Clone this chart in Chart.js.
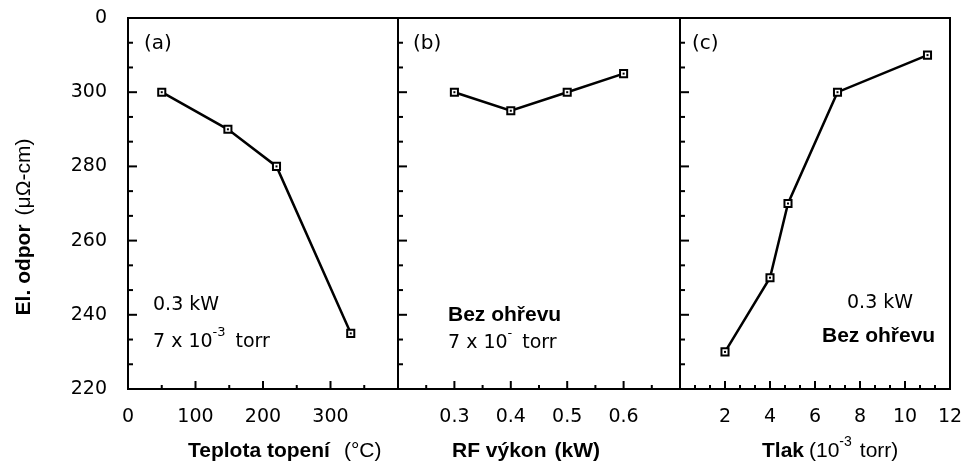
<!DOCTYPE html>
<html>
<head>
<meta charset="utf-8">
<script src="https://cdn.jsdelivr.net/npm/chart.js@4"></script>
<style>
html,body{margin:0;padding:0;background:#fff;}
canvas{display:block;}
</style>
</head>
<body>
<canvas id="c" width="964" height="464" style="width:964px;height:464px"></canvas>
<script>
// ---- data ----
const tempC = [50, 148, 220, 330];
const resA = [300, 290, 280, 235];
const powerKW = [0.3, 0.4, 0.5, 0.6];
const resB = [300, 295, 300, 305];
const pressure = [2, 4, 4.8, 7, 11];
const resC = [230, 250, 270, 300, 310];

const yTicks = [220, 240, 260, 280, 300, 320];
const yTickText = ['220', '240', '260', '280', '300', '0'];
const xTicksA = [0, 100, 200, 300];
const xTicksB = [0.3, 0.4, 0.5, 0.6];
const xTicksC = [2, 4, 6, 8, 10, 12];

const TICK_FONT = {family: 'DejaVu Sans', size: 19};

function ds(xs, ys, axis) {
  return {
    data: xs.map((x, i) => ({x: x, y: ys[i]})),
    xAxisID: axis, yAxisID: 'y',
    borderColor: '#000', borderWidth: 2.5,
    pointStyle: 'rect', pointRadius: 5, pointHoverRadius: 5,
    pointBorderWidth: 2, pointBorderColor: '#000', pointBackgroundColor: '#fff',
    tension: 0, fill: false
  };
}

function xScale(min, max, weight, ticks, fmt) {
  return {
    type: 'linear', position: 'bottom', stack: 'bx', stackWeight: weight,
    min: min, max: max,
    grid: {display: false, drawTicks: false}, border: {display: false},
    afterBuildTicks: s => { s.ticks = ticks.map(v => ({value: v})); },
    afterFit: s => { s.height = 75; s.paddingLeft = 0; s.paddingRight = 0; },
    ticks: {font: TICK_FONT, color: '#000', padding: 17, autoSkip: false, maxRotation: 0,
            callback: v => fmt(v)}
  };
}

const frameTicks = {
  id: 'frameTicks',
  afterDatasetsDraw(chart) {
    const ctx = chart.ctx, y = chart.scales.y, a = chart.chartArea;
    const panels = [
      {s: chart.scales.xA, minor: 50, major: 100},
      {s: chart.scales.xB, minor: 0.05, major: 0.1},
      {s: chart.scales.xC, minor: 2/3, major: 2}
    ];
    ctx.save();
    ctx.strokeStyle = '#000';
    ctx.lineWidth = 2;
    ctx.strokeRect(a.left, a.top, a.right - a.left, a.bottom - a.top);
    const line = (x1, y1, x2, y2) => { ctx.beginPath(); ctx.moveTo(x1, y1); ctx.lineTo(x2, y2); ctx.stroke(); };
    panels.forEach((p, k) => {
      const s = p.s;
      if (k > 0) line(s.left, a.top, s.left, a.bottom);
      const yStep = 20 / 3;
      for (let i = 1; i < 15; i++) {
        const v = y.min + i * yStep;
        const py = y.getPixelForValue(v);
        const major = i % 3 === 0;
        line(s.left, py, s.left + (major ? 9 : 5), py);
      }
      const n = Math.round((s.max - s.min) / p.minor);
      for (let i = 1; i < n; i++) {
        const v = s.min + i * p.minor;
        const px = s.getPixelForValue(v);
        const major = Math.abs(v / p.major - Math.round(v / p.major)) < 1e-6;
        line(px, a.bottom, px, a.bottom - (major ? 8 : 4));
      }
    });
    ctx.fillStyle = '#000';
    chart.data.datasets.forEach((d, i) => {
      chart.getDatasetMeta(i).data.forEach(pt => { ctx.fillRect(pt.x - 1, pt.y - 1, 2, 2); });
    });
    ctx.restore();
  }
};

function runs(ctx, x, yb, parts, align) {
  let total = 0;
  parts.forEach(p => { ctx.font = p.f; total += ctx.measureText(p.t).width + (p.gap || 0); });
  let cx = align === 'center' ? x - total / 2 : x;
  parts.forEach(p => {
    ctx.font = p.f;
    ctx.fillText(p.t, cx, yb + (p.dy || 0));
    cx += ctx.measureText(p.t).width + (p.gap || 0);
  });
}

const NORM = '19px "DejaVu Sans"';
const SUP = '13px "DejaVu Sans"';
const BOLD = 'bold 21px "Liberation Sans"';
const TBOLD = 'bold 21px "Liberation Sans"';
const TNORM = '21px "Liberation Sans"';
const TSUP = '14px "Liberation Sans"';

const labels = {
  id: 'labels',
  afterDraw(chart) {
    const ctx = chart.ctx;
    ctx.save();
    ctx.fillStyle = '#000';
    ctx.textBaseline = 'alphabetic';
    ctx.textAlign = 'left';
    ctx.font = '20px "DejaVu Sans"';
    ctx.fillText('(a)', 144, 49);
    ctx.fillText('(b)', 413, 49);
    ctx.fillText('(c)', 692, 49);
    runs(ctx, 153, 310, [{t: '0.3 kW', f: NORM}]);
    runs(ctx, 153, 347, [{t: '7 x 10', f: NORM}, {t: '-3', f: SUP, dy: -11, gap: 10}, {t: 'torr', f: NORM}]);
    runs(ctx, 448, 321, [{t: 'Bez ohřevu', f: BOLD}]);
    runs(ctx, 448, 348, [{t: '7 x 10', f: NORM}, {t: '-', f: SUP, dy: -11, gap: 10}, {t: 'torr', f: NORM}]);
    runs(ctx, 847, 308, [{t: '0.3 kW', f: NORM}]);
    runs(ctx, 822, 342, [{t: 'Bez ohřevu', f: BOLD}]);
    runs(ctx, 188, 457, [{t: 'Teplota topení', f: TBOLD, gap: 14}, {t: '(°C)', f: TNORM}]);
    runs(ctx, 452, 457, [{t: 'RF výkon', f: TBOLD, gap: 8}, {t: '(kW)', f: TBOLD}]);
    runs(ctx, 762, 457, [{t: 'Tlak', f: TBOLD, gap: 5}, {t: '(10', f: TNORM}, {t: '-3', f: TSUP, dy: -11, gap: 8}, {t: 'torr)', f: TNORM}]);
    ctx.translate(24, 227);
    ctx.rotate(-Math.PI / 2);
    ctx.textBaseline = 'middle';
    runs(ctx, 0, 0, [{t: 'El. odpor', f: TBOLD, gap: 9}, {t: '(μΩ-cm)', f: TNORM}], 'center');
    ctx.restore();
  }
};

new Chart(document.getElementById('c'), {
  type: 'line',
  data: {datasets: [ds(tempC, resA, 'xA'), ds(powerKW, resB, 'xB'), ds(pressure, resC, 'xC')]},
  options: {
    responsive: false, animation: false, devicePixelRatio: 1,
    layout: {padding: {top: 18, right: 14, left: 0, bottom: 0}, autoPadding: false},
    plugins: {legend: {display: false}, tooltip: {enabled: false}},
    scales: {
      xA: xScale(0, 400, 270, xTicksA, v => String(v)),
      xB: xScale(0.2, 0.7, 282, xTicksB, v => v.toFixed(1)),
      xC: xScale(0, 12, 270, xTicksC, v => String(v)),
      y: {
        type: 'linear', position: 'left', min: 220, max: 320,
        grid: {display: false, drawTicks: false}, border: {display: false},
        afterBuildTicks: s => { s.ticks = yTicks.map(v => ({value: v})); },
        afterFit: s => { s.width = 128; s.paddingTop = 0; s.paddingBottom = 0; },
        ticks: {font: TICK_FONT, color: '#000', padding: 21,
                callback: (v) => yTickText[yTicks.indexOf(v)]}
      }
    }
  },
  plugins: [frameTicks, labels]
});
</script>
</body>
</html>
